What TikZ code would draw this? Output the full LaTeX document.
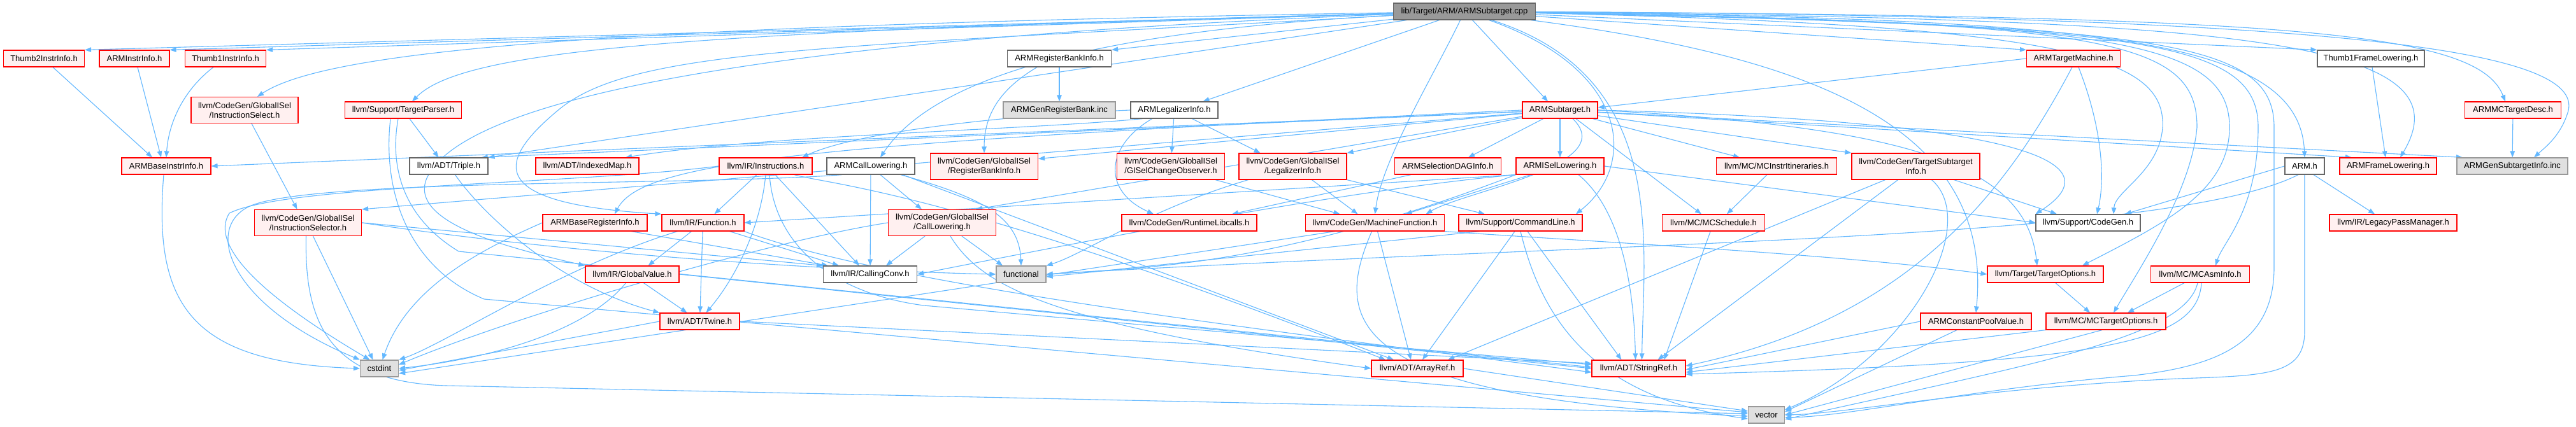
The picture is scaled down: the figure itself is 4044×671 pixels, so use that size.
\documentclass[tikz,border=0pt]{standalone}
\usepackage{fontspec}
\setmainfont{Liberation Sans}
\usetikzlibrary{arrows.meta}
\definecolor{edgec}{HTML}{63B8FF}
\definecolor{redfill}{HTML}{FFF0F0}
\definecolor{grayfill}{HTML}{E0E0E0}
\definecolor{graybd}{HTML}{999999}
\definecolor{whitebd}{HTML}{666666}
\definecolor{rootfill}{HTML}{999999}
\pgfdeclarelayer{bg}
\pgfsetlayers{bg,main}
\begin{document}
\begin{tikzpicture}[x=1pt,y=-1pt,
  nd/.style={rectangle, inner sep=0pt, minimum height=26pt, line width=1.2pt, font=\fontsize{13}{15}\selectfont, align=center, text=black},
  rn/.style={nd, draw=red, fill=redfill},
  wn/.style={nd, draw=whitebd, fill=white},
  gn/.style={nd, draw=graybd, fill=grayfill},
  tl/.style={minimum height=41pt},
  e/.style={draw=edgec, line width=1.1pt, -{Triangle[length=10pt,width=7.5pt]}}
]
\useasboundingbox (0,0) rectangle (4044,671);

% row 0
\node[nd, draw=whitebd, fill=rootfill, minimum width=223pt] (root) at (2299,18) {lib/Target/ARM/ARMSubtarget.cpp};
% row 1
\node[rn, minimum width=127pt] (T2I) at (69,92) {Thumb2InstrInfo.h};
\node[rn, minimum width=110pt] (AII) at (211,92) {ARMInstrInfo.h};
\node[rn, minimum width=127pt] (T1I) at (354,92) {Thumb1InstrInfo.h};
\node[wn, minimum width=163pt] (ARBI) at (1663,92) {ARMRegisterBankInfo.h};
\node[rn, minimum width=147pt] (ATM) at (3255,92) {ARMTargetMachine.h};
\node[wn, minimum width=168pt] (T1FL) at (3722,92) {Thumb1FrameLowering.h};
% row 2
\node[rn, tl, minimum width=168pt] (ISel) at (384,173) {llvm/CodeGen/GlobalISel\\/InstructionSelect.h};
\node[rn, minimum width=183pt] (TP) at (633,173) {llvm/Support/TargetParser.h};
\node[gn, minimum width=176pt] (AGRB) at (1663,173) {ARMGenRegisterBank.inc};
\node[wn, minimum width=137pt] (ALI) at (1843.5,173) {ARMLegalizerInfo.h};
\node[rn, minimum width=118pt] (AST) at (2449,173) {ARMSubtarget.h};
\node[rn, minimum width=151pt] (AMCTD) at (3945,173) {ARMMCTargetDesc.h};
% row 3
\node[rn, minimum width=140pt] (ABII) at (261,261) {ARMBaseInstrInfo.h};
\node[wn, minimum width=123pt] (TRI) at (704.5,261) {llvm/ADT/Triple.h};
\node[rn, minimum width=162pt] (IMAP) at (922,261) {llvm/ADT/IndexedMap.h};
\node[rn, minimum width=146pt] (INS) at (1202,261) {llvm/IR/Instructions.h};
\node[wn, minimum width=138pt] (ACL) at (1367,261) {ARMCallLowering.h};
\node[rn, tl, minimum width=169pt] (RBI) at (1545,261.5) {llvm/CodeGen/GlobalISel\\/RegisterBankInfo.h};
\node[rn, tl, minimum width=169pt] (GCO) at (1838,261.5) {llvm/CodeGen/GlobalISel\\/GISelChangeObserver.h};
\node[rn, tl, minimum width=169pt] (LI) at (2029.5,261.5) {llvm/CodeGen/GlobalISel\\/LegalizerInfo.h};
\node[rn, minimum width=167pt] (ASDI) at (2273,261) {ARMSelectionDAGInfo.h};
\node[rn, minimum width=138pt] (AISL) at (2449,261) {ARMISelLowering.h};
\node[rn, minimum width=189pt] (MCII) at (2789,261) {llvm/MC/MCInstrItineraries.h};
\node[rn, tl, minimum width=201pt] (TSI) at (3007.5,261.5) {llvm/CodeGen/TargetSubtarget\\Info.h};
\node[wn, minimum width=62pt] (ARMH) at (3618,261) {ARM.h};
\node[rn, minimum width=152pt] (AFL) at (3749,261) {ARMFrameLowering.h};
\node[gn, minimum width=174pt] (AGSI) at (3944,261) {ARMGenSubtargetInfo.inc};
% row 4
\node[rn, tl, minimum width=168pt] (ISR) at (483.5,350) {llvm/CodeGen/GlobalISel\\/InstructionSelector.h};
\node[rn, minimum width=164pt] (ABRI) at (934,350) {ARMBaseRegisterInfo.h};
\node[rn, minimum width=129pt] (FN) at (1103.5,350) {llvm/IR/Function.h};
\node[rn, tl, minimum width=169pt] (CLW) at (1479,350) {llvm/CodeGen/GlobalISel\\/CallLowering.h};
\node[rn, minimum width=212pt] (RTL) at (1867,350) {llvm/CodeGen/RuntimeLibcalls.h};
\node[rn, minimum width=218pt] (MF) at (2158.5,350) {llvm/CodeGen/MachineFunction.h};
\node[rn, minimum width=194pt] (CL) at (2387,350) {llvm/Support/CommandLine.h};
\node[rn, minimum width=161pt] (MCS) at (2690,350) {llvm/MC/MCSchedule.h};
\node[wn, minimum width=164pt] (CG) at (3278,350) {llvm/Support/CodeGen.h};
\node[rn, minimum width=200pt] (LPM) at (3757,350) {llvm/IR/LegacyPassManager.h};
% row 5
\node[rn, minimum width=147pt] (GV) at (992.5,431) {llvm/IR/GlobalValue.h};
\node[wn, minimum width=147pt] (CC) at (1366,431) {llvm/IR/CallingConv.h};
\node[gn, minimum width=78pt] (FUNC) at (1603,431) {functional};
\node[rn, minimum width=182pt] (TO) at (3211,431) {llvm/Target/TargetOptions.h};
\node[rn, minimum width=155pt] (MCAI) at (3454,431) {llvm/MC/MCAsmInfo.h};
% row 6
\node[rn, minimum width=125pt] (TW) at (1098.5,505) {llvm/ADT/Twine.h};
\node[rn, minimum width=174pt] (ACPV) at (3102,505) {ARMConstantPoolValue.h};
\node[rn, minimum width=188pt] (MCTO) at (3306,505) {llvm/MC/MCTargetOptions.h};
% row 7
\node[gn, minimum width=60pt] (CSTD) at (595.5,579) {cstdint};
\node[rn, minimum width=144pt] (AR) at (2225,579) {llvm/ADT/ArrayRef.h};
\node[rn, minimum width=147pt] (SR) at (2572.5,579) {llvm/ADT/StringRef.h};
% row 8
\node[gn, minimum width=57pt] (VEC) at (2773,652) {vector};

\begin{pgfonlayer}{bg}
\fill[white] (0,0) rectangle (4044,671);
% root
\draw[e] (root) -- (T2I.north east);
\draw[e] (root) -- (AII.north east);
\draw[e] (root) -- (T1I.north east);
\draw[e] (root) .. controls (1000,40) and (520,75) .. ([xshift=20pt]ISel.north);
\draw[e] (root) .. controls (1100,50) and (730,75) .. ([xshift=14pt]TP.north);
\draw[e] (root) -- (TRI.north east);
\draw[e] (root) .. controls (1300,75) and (1000,75) .. (880,170) .. controls (770,260) and (770,320) .. (FN.north west);
\draw[e] (root) .. controls (1100,65) and (720,170) .. (670,280) .. controls (640,350) and (800,390) .. (GV.north west);
\draw[e] (root) .. controls (1800,45) and (1480,100) .. ([xshift=15pt]ACL.north);
\draw[e] (root) -- (ARBI.north east);
\draw[e] (root) -- ([xshift=45pt]ALI.north);
\draw[e] (root) -- ([xshift=-19pt]AST.north);
\draw[e] (root) .. controls (2250,120) and (2170,250) .. (MF.north);
\draw[e] (root) .. controls (2560,110) and (2570,260) .. ([xshift=87pt]CL.north);
\draw[e] (root) .. controls (2620,120) and (2580,380) .. ([xshift=5pt]SR.north);
\draw[e] (root) .. controls (2850,90) and (3130,200) .. (ACPV.north);
\draw[e] (root) -- (ATM.north west);
\draw[e] (root) -- (T1FL.north west);
\draw[e] (root) .. controls (3300,30) and (3610,60) .. (ARMH.north);
\draw[e] (root) .. controls (3500,30) and (3880,60) .. ([xshift=19pt]AFL.north);
\draw[e] (root) .. controls (3600,25) and (3890,50) .. ([xshift=-12pt]AMCTD.north);
\draw[e] (root) .. controls (3700,25) and (4070,80) .. (4030,180) .. controls (4018,215) and (3995,232) .. ([xshift=34pt]AGSI.north);
\draw[e] (root) .. controls (3350,40) and (3545,60) .. (3545,200) .. controls (3545,330) and (3490,380) .. ([xshift=24pt]MCAI.north);
\draw[e] (root) .. controls (3300,35) and (3449,60) .. (3449,200) .. controls (3440,300) and (3360,420) .. ([xshift=12pt]MCTO.north);
\draw[e] (root) .. controls (3300,35) and (3500,60) .. (3500,200) .. controls (3500,300) and (3400,350) .. ([xshift=58pt]TO.north);
\draw[e] (root) .. controls (3250,40) and (3400,90) .. (3395,200) .. controls (3390,270) and (3320,300) .. ([xshift=40pt]CG.north);
\draw[e] (root) .. controls (3380,40) and (3570,60) .. (3570,200) -- (3570,420) .. controls (3570,540) and (3480,575) .. (3350,590) .. controls (3100,610) and (2900,655) .. ([yshift=-4pt]VEC.east);
% row 1 sources
\draw[e] ([xshift=14pt]T2I.south) -- ([xshift=-22pt]ABII.north);
\draw[e] ([xshift=5pt]AII.south) -- ([xshift=-8pt]ABII.north);
\draw[e] ([xshift=-19pt]T1I.south) .. controls (290,140) and (265,190) .. (ABII.north);
\draw[e] ([xshift=-35pt]ARBI.south) .. controls (1570,140) and (1545,180) .. (RBI.north);
\draw[e] (ARBI) -- (AGRB);
\draw[e] (ATM.west) -- ([yshift=4pt]AST.east);
\draw[e] ([xshift=8pt]ATM.south) .. controls (3300,200) and (3305,280) .. ([xshift=14pt]CG.north);
\draw[e] ([xshift=-2pt]ATM.south) .. controls (3150,300) and (3000,500) .. ([yshift=4pt]SR.east);
\draw[e] (T1FL) -- ([xshift=-4pt]AFL.north);
% row 2 sources
\draw[e] ([xshift=11pt]ISel.south) -- ([xshift=-17pt]ISR.north);
\draw[e] ([xshift=10pt]TP.south) -- ([xshift=-16pt]TRI.north);
\draw[e] ([xshift=-8pt]TP.south) .. controls (612,260) and (630,340) .. (720,395) -- ([yshift=2pt]SR.west);
\draw[e] ([xshift=-20pt]TP.south) .. controls (600,300) and (640,420) .. (760,470) -- ([yshift=4pt]VEC.west);
\draw[e] (ALI) -- (GCO);
\draw[e] ([xshift=28pt]ALI.south) -- ([xshift=-51pt]LI.north);
\draw[e] ([xshift=-35pt]ALI.south) .. controls (1735,230) and (1730,300) .. ([xshift=-56pt]RTL.north);
\draw[e] ([xshift=-50pt]ALI.south) .. controls (1600,205) and (1200,212) .. ([xshift=60pt]IMAP.north);
\draw[e] (ALI.west) .. controls (1600,180) and (1350,205) .. ([xshift=57pt]INS.north);
\draw[e] (AST) -- (ABII.east);
\draw[e] (AST) -- (ISR.north east);
\draw[e] (AST) -- ([xshift=-11pt]TRI.north east);
\draw[e] (AST.west) .. controls (1300,225) and (1010,250) .. ([xshift=31pt]ABRI.north);
\draw[e] (AST) -- ([xshift=53pt]CLW.north);
\draw[e] (AST) -- ([yshift=12pt]RBI.east);
\draw[e] (AST) -- (LI.north east);
\draw[e] (AST) -- ([xshift=32pt]ASDI.north);
\draw[e] (AST) -- (AISL);
\draw[e] ([xshift=20pt]AST.south) .. controls (2545,260) and (2300,300) .. ([xshift=80pt]MF.north);
\draw[e] (AST) -- ([xshift=-58pt]MCII.north);
\draw[e] (AST) -- (TSI.north west);
\draw[e] (AST) -- ([xshift=-57pt]AFL.north);
\draw[e] (AST) -- ([xshift=-78pt]AGSI.north);
\draw[e] ([xshift=25pt]AST.south) -- ([xshift=-19pt]MCS.north);
\draw[e] (AST.east) .. controls (3150,190) and (3330,250) .. (CG.north west);
\draw[e] (AST.east) .. controls (3000,200) and (3180,260) .. ([xshift=-13pt]TO.north);
\draw[e] (AMCTD) -- (AGSI);
% row 3 sources
\draw[e] ([xshift=-4pt]ABII.south) .. controls (240,480) and (300,570) .. (CSTD.west);
\draw[e] ([xshift=10pt]TRI.south) .. controls (760,340) and (880,450) .. (TW.north west);
\draw[e] ([xshift=-14pt]INS.south) -- ([xshift=18pt]FN.north);
\draw[e] (INS.south) .. controls (1195,350) and (1160,430) .. ([xshift=10pt]TW.north);
\draw[e] ([xshift=15pt]INS.south) -- ([xshift=-17pt]CC.north);
\draw[e] (INS.west) .. controls (900,290) and (450,290) .. (360,335) .. controls (320,400) and (470,500) .. ([xshift=-15pt]CSTD.north);
\draw[e] ([xshift=6pt]INS.south) .. controls (1215,380) and (1300,460) .. (1450,480) -- ([yshift=6pt]SR.west);
\draw[e] ([xshift=45pt]INS.south) .. controls (1300,290) and (1500,300) .. ([xshift=-50pt]AR.north);
\draw[e] ([xshift=15pt]ACL.south) -- ([xshift=-32pt]CLW.north);
\draw[e] (ACL) -- (CC);
\draw[e] ([xshift=47pt]ACL.south) .. controls (1540,310) and (1600,340) .. (FUNC.north);
\draw[e] ([xshift=-45pt]ACL.south) .. controls (1100,292) and (480,280) .. (390,325) .. controls (320,360) and (360,480) .. (CSTD.north west);
\draw[e] ([xshift=50pt]ACL.south) -- ([xshift=-37pt]AR.north);
\draw[e] ([xshift=30pt]LI.south) -- ([xshift=-27pt]MF.north);
\draw[e] (LI.south east) -- ([xshift=-56pt]CL.north);
\draw[e] ([xshift=-70pt]LI.south) .. controls (1800,330) and (1700,400) .. (FUNC.north east);
\draw[e] ([xshift=70pt]GCO.south) -- ([xshift=-55pt]MF.north);
\draw[e] ([xshift=-58pt]ASDI.south) -- ([xshift=67pt]RTL.north);
\draw[e] ([xshift=-46pt]AISL.south) -- ([xshift=48pt]MF.north);
\draw[e] (AISL.south west) .. controls (2100,300) and (1700,380) .. (CC.east);
\draw[e] (AISL.south west) -- (FN.east);
\draw[e] (AISL.east) -- (CG.west);
\draw[e] ([xshift=29pt]AISL.south) .. controls (2545,330) and (2565,450) .. ([xshift=-5pt]SR.north);
\draw[e] (AISL.south west) .. controls (2000,420) and (1800,420) .. (FUNC.east);
\draw[e] ([xshift=-15pt]MCII.south) -- ([xshift=21pt]MCS.north);
\draw[e] ([xshift=-48pt]TSI.south) -- ([xshift=48pt]AR.north);
\draw[e] ([xshift=-28pt]TSI.south) -- ([xshift=30pt]SR.north);
\draw[e] ([xshift=60pt]TSI.south) -- ([xshift=-49pt]CG.north);
\draw[e] ([xshift=25pt]TSI.south) .. controls (3110,350) and (3000,560) .. ([yshift=8pt]VEC.east);
\draw[e] (ARMH.west) -- ([xshift=58pt]CG.north);
\draw[e] ([xshift=-10pt]ARMH.south) .. controls (3400,380) and (2500,380) .. (FUNC.east);
\draw[e] (ARMH.south) -- (3618,520) .. controls (3618,590) and (3560,590) .. (3420,595) .. controls (3100,610) and (2900,650) .. (VEC.east);
\draw[e] ([xshift=14pt]ARMH.south) -- ([xshift=-29pt]LPM.north);
% row 4 sources
\draw[e] (ISR.east) -- (CC.north west);
\draw[e] (ISR.east) .. controls (900,400) and (1300,425) .. (FUNC.west);
\draw[e] ([xshift=8pt]ISR.south) -- ([xshift=-10pt]CSTD.north);
\draw[e] ([xshift=-3pt]ISR.south) .. controls (478,500) and (510,600) .. (700,606) -- ([yshift=2pt]VEC.west);
\draw[e] ([xshift=57pt]ABRI.south) -- ([xshift=8pt]CC.north west);
\draw[e] (ABRI.west) .. controls (760,390) and (640,450) .. ([xshift=5pt]CSTD.north);
\draw[e] ([xshift=-18pt]FN.south) -- ([xshift=25pt]GV.north);
\draw[e] (FN) -- (TW);
\draw[e] ([xshift=42pt]FN.south) -- ([xshift=-49pt]CC.north);
\draw[e] ([xshift=-40pt]FN.south) .. controls (880,420) and (700,540) .. (CSTD.north east);
\draw[e] (FN.south east) .. controls (1400,450) and (2000,520) .. ([yshift=-6pt]SR.west);
\draw[e] ([xshift=-27pt]CLW.south) -- ([xshift=25pt]CC.north);
\draw[e] ([xshift=31pt]CLW.south) -- ([xshift=-29pt]FUNC.north);
\draw[e] ([xshift=13pt]CLW.south) .. controls (1540,450) and (1650,510) .. (AR.west);
\draw[e] (CLW.west) .. controls (1200,380) and (800,500) .. ([yshift=6pt]CSTD.east);
\draw[e] ([xshift=4pt]MF.south) -- ([xshift=-10pt]AR.north);
\draw[e] (MF.south east) .. controls (2500,380) and (2900,400) .. (TO.west);
\draw[e] ([xshift=-5pt]MF.south) .. controls (2095,500) and (2100,625) .. ([yshift=-2pt]VEC.west);
\draw[e] ([xshift=-63pt]MF.south) -- ([yshift=-8pt]CSTD.east);
\draw[e] ([xshift=-9pt]CL.south) -- ([xshift=8pt]AR.north);
\draw[e] ([xshift=11pt]CL.south) -- ([xshift=-27pt]SR.north);
\draw[e] (CL.south) .. controls (2420,500) and (2500,625) .. ([yshift=-6pt]VEC.west);
\draw[e] ([xshift=-64pt]CL.south) -- ([yshift=-4pt]FUNC.east);
\draw[e] (MCS) -- ([xshift=40pt]SR.north);
% row 5 and below
\draw[e] ([xshift=18pt]GV.south) -- ([xshift=-20pt]TW.north);
\draw[e] ([xshift=-10pt]GV.south) .. controls (930,510) and (800,560) .. (CSTD.east);
\draw[e] (GV.east) -- (SR.west);
\draw[e] ([xshift=16pt]TO.south) -- ([xshift=-25pt]MCTO.north);
\draw[e] ([xshift=-25pt]MCAI.south) -- ([xshift=34pt]MCTO.north);
\draw[e] ([xshift=-4pt]MCAI.south) .. controls (3430,530) and (3200,570) .. ([yshift=-7pt]VEC.east);
\draw[e] ([xshift=2pt]MCAI.south) .. controls (3450,540) and (3300,570) .. ([yshift=-9pt]SR.east);
\draw[e] (TW.west) -- ([yshift=-3pt]CSTD.east);
\draw[e] (TW.east) -- ([yshift=8pt]SR.west);
\draw[e] (ACPV.west) -- ([yshift=-2pt]SR.east);
\draw[e] ([xshift=-30pt]ACPV.south) -- ([yshift=5pt]VEC.east);
\draw[e] (MCTO.south west) -- ([yshift=-6pt]SR.east);
\draw[e] ([xshift=-6pt]MCTO.south) -- (VEC.east);
\draw[e] (AR.east) -- ([yshift=6pt]VEC.west);
\end{pgfonlayer}
\end{tikzpicture}
\end{document}
